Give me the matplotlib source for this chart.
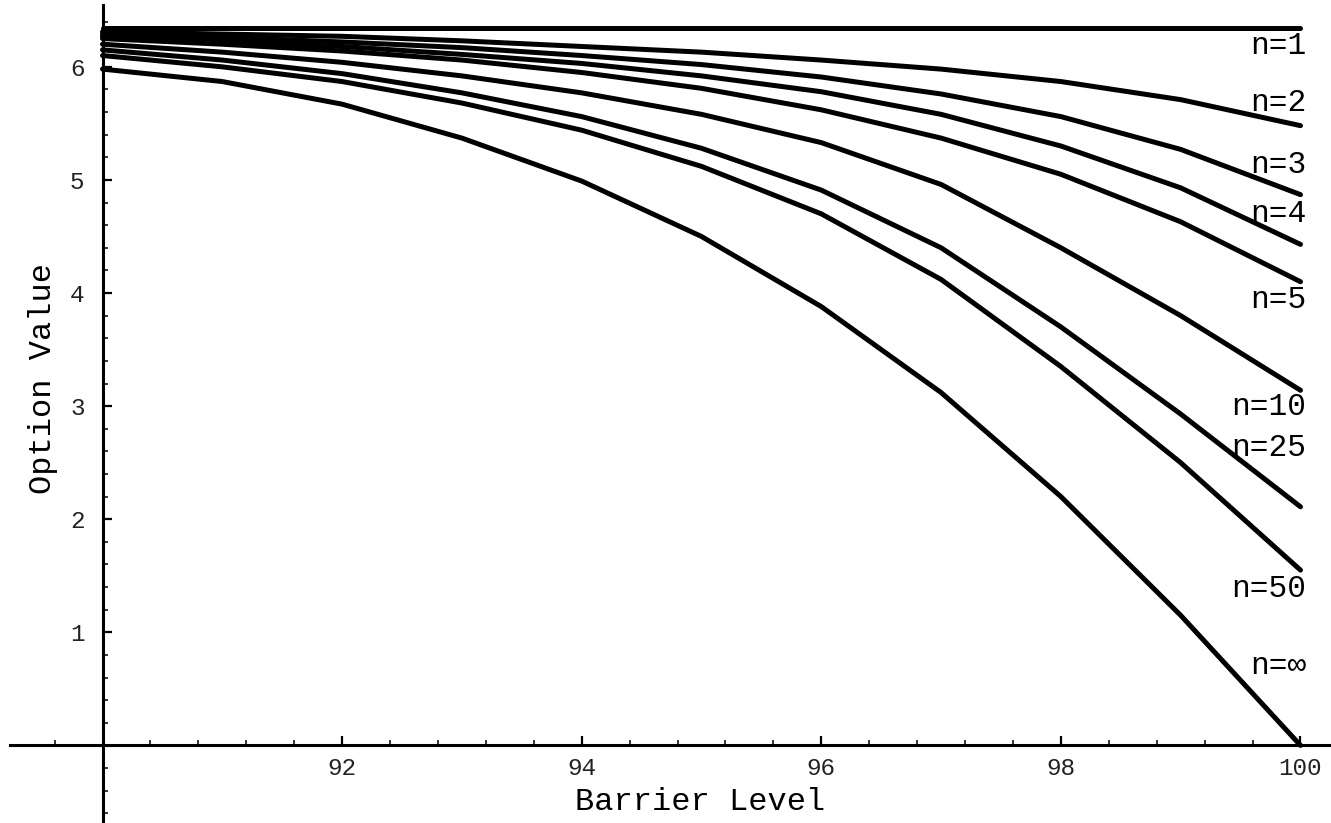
import matplotlib.pyplot as plt
from matplotlib.ticker import FixedLocator

# barrier levels (x) and option values for each monitoring frequency n
barrier = [90, 91, 92, 93, 94, 95, 96, 97, 98, 99, 100]

n1 = [6.34, 6.34, 6.34, 6.34, 6.34, 6.34, 6.34, 6.34, 6.34, 6.34, 6.34]
n2 = [6.31, 6.29, 6.27, 6.23, 6.18, 6.13, 6.06, 5.98, 5.87, 5.71, 5.48]
n3 = [6.29, 6.26, 6.22, 6.17, 6.10, 6.02, 5.91, 5.76, 5.56, 5.27, 4.87]
n4 = [6.27, 6.23, 6.18, 6.11, 6.03, 5.92, 5.78, 5.58, 5.30, 4.93, 4.43]
n5 = [6.25, 6.20, 6.14, 6.06, 5.95, 5.81, 5.62, 5.37, 5.05, 4.63, 4.10]
n10 = [6.20, 6.13, 6.04, 5.92, 5.77, 5.58, 5.33, 4.96, 4.40, 3.80, 3.14]
n25 = [6.15, 6.06, 5.94, 5.77, 5.56, 5.28, 4.91, 4.40, 3.70, 2.93, 2.11]
n50 = [6.10, 6.00, 5.87, 5.68, 5.44, 5.12, 4.70, 4.12, 3.35, 2.50, 1.55]
ninf = [5.98, 5.87, 5.67, 5.37, 4.99, 4.50, 3.88, 3.12, 2.20, 1.15, 0.00]

series = [n1, n2, n3, n4, n5, n10, n25, n50, ninf]
labels = ["n=1", "n=2", "n=3", "n=4", "n=5", "n=10", "n=25", "n=50", "n=\u221e"]
label_y = [6.18, 5.68, 5.13, 4.70, 3.94, 2.99, 2.63, 1.38, 0.70]

mono = ['Liberation Mono', 'DejaVu Sans Mono']

fig = plt.figure(figsize=(13.31, 8.23), dpi=100)
ax = fig.add_axes([0, 0, 1, 1])
ax.patch.set_alpha(0)

for vals in series:
    ax.plot(barrier, vals, color='black', lw=3.6, solid_capstyle='round',
            solid_joinstyle='round', zorder=3)

for lab, ly in zip(labels, label_y):
    ax.text(100.05, ly, lab, ha='right', va='center', fontsize=22.5,
            family=mono, zorder=4)

ax.set_xlim(89.1444, 100.2546)
ax.set_ylim(-0.686, 6.591)

# axes crossing at (90, 0)
for s in ['top', 'right']:
    ax.spines[s].set_visible(False)
ax.spines['left'].set_position(('data', 90))
ax.spines['bottom'].set_position(('data', 0))
ax.spines['left'].set_bounds(-0.7, 6.55)
ax.spines['bottom'].set_bounds(89.23, 100.3)
ax.spines['left'].set_linewidth(2.2)
ax.spines['bottom'].set_linewidth(2.2)

ax.xaxis.set_major_locator(FixedLocator([92, 94, 96, 98, 100]))
ax.xaxis.set_minor_locator(FixedLocator([89.6 + 0.4 * i for i in range(27)]))
ax.yaxis.set_major_locator(FixedLocator([1, 2, 3, 4, 5, 6]))
ax.yaxis.set_minor_locator(FixedLocator([round(-0.6 + 0.2 * i, 2) for i in range(36)]))

ax.tick_params(which='both', direction='in', color='black')
ax.tick_params(which='major', length=6.5, width=1.6)
ax.tick_params(which='minor', length=3.6, width=1.1)
ax.tick_params(axis='x', which='major', pad=8, labelsize=17.5)
ax.tick_params(axis='y', which='major', pad=13, labelsize=17.5)
ax.set_xticklabels(['92', '94', '96', '98', '100'], family=mono, color='#222222')
ax.set_yticklabels(['1', '2', '3', '4', '5', '6'], family=mono, color='#222222')

fig.text(700 / 1331, 1 - 802 / 823, "Barrier Level", ha='center', va='center',
         fontsize=23, family=mono)
fig.text(43 / 1331, 1 - 378 / 823, "Option Value", ha='center', va='center',
         rotation=90, fontsize=23, family=mono)

fig.savefig('out.png', dpi=100)
